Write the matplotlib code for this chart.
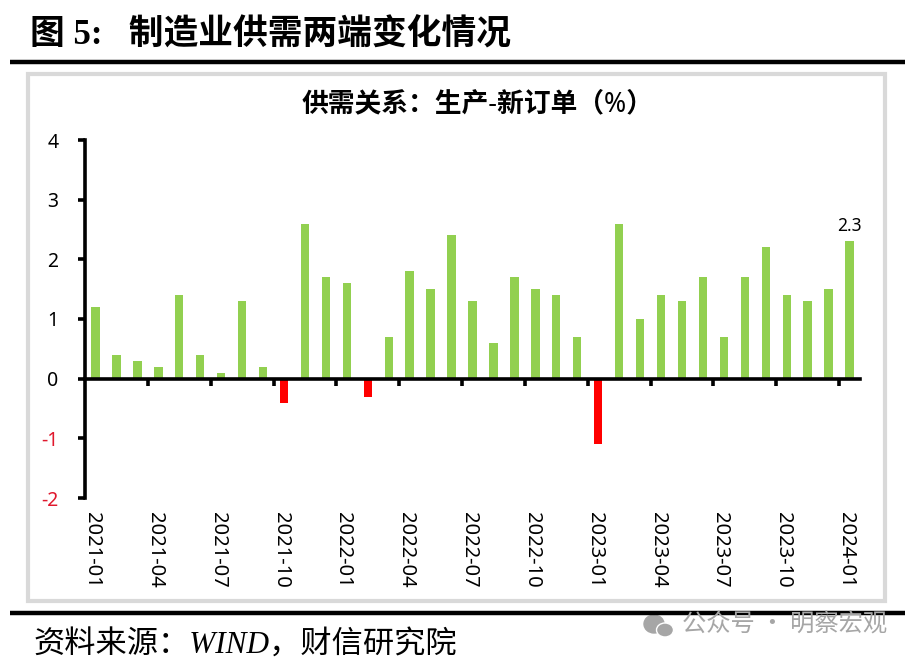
# 图5 制造业供需两端变化情况
import matplotlib
matplotlib.use('Agg')
import matplotlib.pyplot as plt
from matplotlib.patches import Rectangle, Ellipse

plt.rcParams['font.family'] = ['Noto Sans', 'Noto Sans CJK SC', 'DejaVu Sans']

values = [1.2, 0.4, 0.3, 0.2, 1.4, 0.4, 0.1, 1.3, 0.2, -0.4, 2.6, 1.7, 1.6,
          -0.3, 0.7, 1.8, 1.5, 2.4, 1.3, 0.6, 1.7, 1.5, 1.4, 0.7, -1.1, 2.6,
          1.0, 1.4, 1.3, 1.7, 0.7, 1.7, 2.2, 1.4, 1.3, 1.5, 2.3]
x_labels = ['2021-01', '2021-04', '2021-07', '2021-10', '2022-01', '2022-04', '2022-07',
            '2022-10', '2023-01', '2023-04', '2023-07', '2023-10', '2024-01']
y_ticks = [-2, -1, 0, 1, 2, 3, 4]

W, H = 916, 663
fig = plt.figure(figsize=(W / 100, H / 100), dpi=100)
ax = fig.add_axes([85 / W, 1 - 498 / H, 775 / W, 358 / H])

# outer furniture
bg = fig.add_axes([0, 0, 1, 1], zorder=-1)
bg.set_xlim(0, W)
bg.set_ylim(H, 0)
bg.axis('off')
bg.add_patch(Rectangle((28, 74), 857, 527, fc='white', ec='#d9d9d9', lw=3))
bg.plot([10, 905], [62, 62], color='black', lw=3.2, solid_capstyle='butt')
bg.plot([10, 905], [613, 613], color='black', lw=3.2, solid_capstyle='butt')
bg.add_patch(Ellipse((654, 624), 20, 18, color='#a6a6a6'))
bg.add_patch(Ellipse((665, 630), 17, 14, color='#a6a6a6', ec='white', lw=1))

colors = ['#92d050' if v >= 0 else '#ff0000' for v in values]
pos = list(range(len(values)))
ax.bar(pos, values, width=0.4, color=colors)

ax.set_xlim(-0.5, len(values) - 0.5)
ax.set_ylim(-2, 4)
ax.patch.set_alpha(0)
ax.spines['top'].set_visible(False)
ax.spines['right'].set_visible(False)
ax.spines['left'].set_linewidth(2.6)
ax.spines['bottom'].set_linewidth(2.6)
ax.spines['bottom'].set_position(('data', 0))

ax.set_yticks(y_ticks)
ax.set_yticklabels([str(t) for t in y_ticks], fontsize=14)
ax.tick_params(axis='y', length=5, width=2.6, pad=14)
for lab, t in zip(ax.get_yticklabels(), y_ticks):
    lab.set_color('#e0182d' if t < 0 else 'black')

ax.set_xticks([i * 3 - 0.5 for i in range(1, len(x_labels))])
ax.set_xticklabels([])
ax.tick_params(axis='x', length=5, width=2.6)

for i, lab in enumerate(x_labels):
    ax.annotate(lab, (i * 3, -2), xytext=(-2.5, -10), textcoords='offset points', rotation=270,
                ha='center', va='top', fontsize=14.5)

ax.text(pos[-1], values[-1] + 0.1, '2.3', ha='center', va='bottom', fontsize=12.5)

fig.text(478 / W, 1 - 104 / H, '\u4f9b\u9700\u5173\u7cfb\uff1a\u751f\u4ea7-\u65b0\u8ba2\u5355\uff08%\uff09',
         ha='center', va='center', fontsize=19.3, fontweight='bold')
fig.text(30 / W, 1 - 36 / H, '\u56fe 5:   \u5236\u9020\u4e1a\u4f9b\u9700\u4e24\u7aef\u53d8\u5316\u60c5\u51b5',
         ha='left', va='center', fontsize=25, fontweight='bold',
         family=['Liberation Serif', 'Noto Sans CJK SC'])
fig.text(33 / W, 1 - 646 / H, '\u8d44\u6599\u6765\u6e90\uff1aWIND\uff0c\u8d22\u4fe1\u7814\u7a76\u9662',
         ha='left', va='center', fontsize=22.5, style='italic',
         family=['Liberation Serif', 'Noto Sans CJK SC'])
fig.text(682 / W, 1 - 625 / H, '\u516c\u4f17\u53f7 \u00b7 \u660e\u5bdf\u5b8f\u89c2',
         ha='left', va='center', fontsize=17.5, color='#a6a6a6', family=['Noto Sans CJK SC'])

fig.savefig('out.png', dpi=100)
